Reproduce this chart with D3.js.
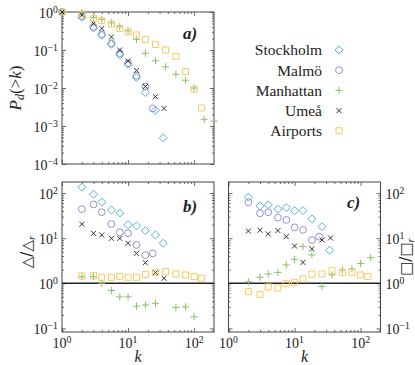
<!DOCTYPE html>
<html>
<head>
<meta charset="utf-8">
<script src="https://cdn.jsdelivr.net/npm/d3@7"></script>
<style>
  body { margin: 0; background: #fff; }
</style>
</head>
<body>
<div id="chart"></div>
<script>
// --- data ---
const xTicks = [1, 10, 100];
const yTicksA = [1e-4, 1e-3, 1e-2, 1e-1, 1];
const yTicksBC = [0.1, 1, 10, 100];
const legendNames = ["Stockholm", "Malmö", "Manhattan", "Umeå", "Airports"];

const kSto = [1, 2, 3, 4, 5.6, 7.5, 10, 13.4, 18.3, 26, 34];
const pdSto = [1, 0.72, 0.38, 0.245, 0.141, 0.074, 0.042, 0.019, 0.0076, 0.0026, 0.00049];
const triSto = [135, 94, 63, 42, 36, 20, 18.7, 14.7, 11.8, 7.7];
const sqSto = [81, 52, 55, 44, 47.5, 40.7, 40.7, 26.7, 18, 5.4];

const kMal = [1, 2, 3, 4, 5.6, 7.5, 10, 13.4, 18.3, 23.6];
const pdMal = [1, 0.78, 0.41, 0.26, 0.15, 0.082, 0.045, 0.021, 0.011, 0.0029];
const triMal = [44, 56, 37.6, 20.6, 13.5, 12.9, 7.1, 4.2, 4.6];
const sqMal = [62.6, 35.7, 37.6, 28.5, 25.4, 17.4, 15.2, 9.1, 10.8];

const kMan = [1, 2, 3, 4, 5.6, 7.5, 10, 13.4, 18.3, 26, 37, 53, 74, 100, 142, 200];
const pdMan = [1, 0.96, 0.72, 0.64, 0.52, 0.41, 0.32, 0.19, 0.082, 0.052, 0.036, 0.023, 0.016, 0.010, 0.0015, 0.00135];
const kManTri = [2, 3, 4, 5.6, 7.5, 10, 13.4, 18.3, 26, 53, 74, 100];
const triMan = [1.4, 1.4, 1.0, 0.69, 0.5, 0.5, 0.31, 0.33, 0.36, 0.29, 0.30, 0.18];
const kManSq = [2, 3, 4, 5.6, 7.5, 10, 13.4, 18.3, 26, 37, 53, 74, 100, 142];
const sqMan = [1.08, 1.36, 1.61, 1.74, 2.55, 3.4, 6.5, 4.25, 0.85, 1.53, 1.97, 2.08, 2.75, 3.7];

const kUme = [1, 2, 3, 4, 5.6, 7.5, 10, 13.4, 18.3, 26, 35];
const pdUme = [1, 0.83, 0.5, 0.37, 0.22, 0.10, 0.051, 0.029, 0.011, 0.0059, 0.0029];
const triUme = [20.4, 12.8, 11.8, 9.9, 9.9, 7.7, 4.6, 2.86, 1.72, 1.29];
const sqUme = [14.4, 15, 12.4, 14.7, 10.8, 6.7, 2.9, 5.8, 9.1, 10.1];

const kAir = [1, 2, 3, 4, 5.6, 7.5, 10, 13.4, 18.3, 26, 37, 53, 74, 100, 129];
const pdAir = [1, 0.88, 0.68, 0.59, 0.48, 0.37, 0.30, 0.25, 0.19, 0.14, 0.10, 0.068, 0.027, 0.0093, 0.003];
const triAir = [1.45, 1.47, 1.36, 1.36, 1.43, 1.36, 1.36, 1.58, 1.72, 1.81, 1.61, 1.53, 1.40, 1.29];
const sqAir = [0.65, 0.56, 0.83, 0.79, 0.98, 1.05, 1.25, 1.59, 1.61, 1.9, 1.75, 1.75, 1.53, 1.41];

const FONT = "Liberation Serif";

// marker shapes, size = half width
const shapes = {
    diamond: { draw(c, r) { c.moveTo(0, -r); c.lineTo(r, 0); c.lineTo(0, r); c.lineTo(-r, 0); c.closePath(); } },
    circle: { draw(c, r) { c.moveTo(r, 0); c.arc(0, 0, r, 0, 2 * Math.PI); } },
    plus: { draw(c, r) { c.moveTo(-r, 0); c.lineTo(r, 0); c.moveTo(0, -r); c.lineTo(0, r); } },
    times: { draw(c, r) { c.moveTo(-r, -r); c.lineTo(r, r); c.moveTo(-r, r); c.lineTo(r, -r); } },
    square: { draw(c, r) { c.rect(-r, -r, 2 * r, 2 * r); } }
};

const series = [
    { name: legendNames[0], shape: "diamond", color: "#56b4dc", r: 4.0, a: [kSto, pdSto], b: [kSto.slice(1), triSto], c: [kSto.slice(1), sqSto] },
    { name: legendNames[1], shape: "circle", color: "#8f92d0", r: 3.4, a: [kMal, pdMal], b: [kMal.slice(1), triMal], c: [kMal.slice(1), sqMal] },
    { name: legendNames[2], shape: "plus", color: "#88c168", r: 3.6, a: [kMan, pdMan], b: [kManTri, triMan], c: [kManSq, sqMan] },
    { name: legendNames[3], shape: "times", color: "#333333", r: 2.5, a: [kUme, pdUme], b: [kUme.slice(1), triUme], c: [kUme.slice(1), sqUme] },
    { name: legendNames[4], shape: "square", color: "#f8c862", r: 3.0, a: [kAir, pdAir], b: [kAir.slice(1), triAir], c: [kAir.slice(1), sqAir] }
];

const svg = d3.select("#chart").append("svg")
    .attr("width", 415)
    .attr("height", 365)
    .attr("font-family", FONT);

function label(parent, size) {
    return parent.append("text")
        .style("font-family", FONT)
        .attr("fill", "#222")
        .style("font-size", size + "px");
}

function minorTicks(domain) {
    const out = [];
    const lo = Math.floor(Math.log10(domain[0])), hi = Math.ceil(Math.log10(domain[1]));
    for (let e = lo; e <= hi; e++) {
        for (let m = 2; m <= 9; m++) {
            const v = m * Math.pow(10, e);
            if (v > domain[0] && v < domain[1]) out.push(v);
        }
    }
    return out;
}

function powLabel(sel, d, size) {
    const e = Math.round(Math.log10(d));
    sel.append("tspan").text("10");
    sel.append("tspan")
        .attr("dy", "-0.5em")
        .style("font-size", (size * 0.7) + "px")
        .text(e < 0 ? "\u2212" + (-e) : e);
}

function drawPanel(cfg) {
    const g = svg.append("g");
    const x = d3.scaleLog().domain([1, 200]).range([cfg.x0, cfg.x1]);
    const y = d3.scaleLog().domain(cfg.ydom).range([cfg.yb, cfg.yt]);

    const xMinor = minorTicks(x.domain());
    const yMinor = minorTicks(y.domain());

    const axes = [
        [d3.axisBottom(x), `translate(0,${cfg.yb})`, xTicks, xMinor],
        [d3.axisTop(x), `translate(0,${cfg.yt})`, xTicks, xMinor],
        [d3.axisLeft(y), `translate(${cfg.x0},0)`, cfg.yTicks, yMinor],
        [d3.axisRight(y), `translate(${cfg.x1},0)`, cfg.yTicks, yMinor]
    ];
    axes.forEach(([ax, tr, major, minor]) => {
        const a1 = g.append("g").attr("transform", tr)
            .call(ax.tickValues(major).tickSizeInner(-4).tickSizeOuter(0).tickFormat(""));
        a1.select(".domain").remove();
        const a2 = g.append("g").attr("transform", tr)
            .call(ax.tickValues(minor).tickSizeInner(-2).tickSizeOuter(0).tickFormat(""));
        a2.select(".domain").remove();
    });
    g.selectAll(".tick line").attr("stroke", "#444").attr("stroke-width", 0.8);

    g.append("rect")
        .attr("x", cfg.x0).attr("y", cfg.yt)
        .attr("width", cfg.x1 - cfg.x0).attr("height", cfg.yb - cfg.yt)
        .attr("fill", "none").attr("stroke", "#444").attr("stroke-width", 1);

    // tick labels
    if (cfg.xLabels) {
        xTicks.forEach(d => {
            const t = label(g, 14).attr("x", x(d)).attr("y", cfg.yb + 16).attr("text-anchor", "middle");
            powLabel(t, d, 14);
        });
        label(g, 16)
            .attr("x", (cfg.x0 + cfg.x1) / 2).attr("y", 362)
            .style("font-style", "italic").attr("text-anchor", "middle")
            .text("k");
    }
    if (cfg.yLabels) {
        const left = cfg.yLabels === "left";
        cfg.yTicks.forEach(d => {
            const t = label(g, 14)
                .attr("x", left ? cfg.x0 - 4 : cfg.x1 + 5).attr("y", y(d)).attr("dy", "0.4em")
                .attr("text-anchor", left ? "end" : "start");
            powLabel(t, d, 14);
        });
    }

    if (cfg.unity) {
        g.append("line")
            .attr("x1", cfg.x0).attr("x2", cfg.x1)
            .attr("y1", y(1)).attr("y2", y(1))
            .attr("stroke", "#222").attr("stroke-width", 1.5);
    }

    // markers
    series.forEach(s => {
        const [ks, vs] = s[cfg.key];
        const pts = ks.map((k, i) => ({ k: k, v: vs[i] }));
        g.selectAll(null).data(pts).enter().append("path")
            .attr("transform", d => `translate(${x(d.k)},${y(d.v)})`)
            .attr("d", d3.symbol().type(shapes[s.shape]).size(s.r))
            .attr("fill", "none")
            .attr("stroke", s.color)
            .attr("stroke-width", 1);
    });

    label(g, 17)
        .attr("x", cfg.tagX).attr("y", cfg.tagY)
        .style("font-weight", "bold").style("font-style", "italic")
        .text(cfg.tag);
    return g;
}

drawPanel({ key: "a", x0: 62, x1: 214, yt: 12, yb: 164, ydom: [1e-4, 1], yTicks: yTicksA,
    xLabels: false, yLabels: "left", tag: "a)", tagX: 183, tagY: 39 });
drawPanel({ key: "b", x0: 62, x1: 214, yt: 182, yb: 332, ydom: [Math.pow(10, -1.08), Math.pow(10, 2.245)], yTicks: yTicksBC,
    xLabels: true, yLabels: "left", unity: true, tag: "b)", tagX: 183, tagY: 212 });
drawPanel({ key: "c", x0: 228.5, x1: 380.5, yt: 182, yb: 332, ydom: [Math.pow(10, -1.08), Math.pow(10, 2.245)], yTicks: yTicksBC,
    xLabels: true, yLabels: "right", unity: true, tag: "c)", tagX: 347, tagY: 208 });

// axis titles
const ta = label(svg, 17)
    .attr("transform", "translate(21,88) rotate(-90)")
    .attr("text-anchor", "middle");
ta.append("tspan").style("font-style", "italic").text("P");
ta.append("tspan").style("font-style", "italic").style("font-size", "12px").attr("dy", "0.25em").text("d");
ta.append("tspan").attr("dy", "-0.2em").text("(>");
ta.append("tspan").style("font-style", "italic").text("k");
ta.append("tspan").text(")");

const tb = label(svg, 15)
    .attr("transform", "translate(32,252) rotate(-90)")
    .attr("text-anchor", "middle");
tb.append("tspan").style("font-family", "DejaVu Sans").text("\u25B3/\u25B3");
tb.append("tspan").style("font-style", "italic").style("font-size", "11px").attr("dy", "0.3em").text("r");

const tc = label(svg, 15)
    .attr("transform", "translate(411,257) rotate(-90)")
    .attr("text-anchor", "middle");
tc.append("tspan").style("font-family", "DejaVu Sans").text("\u25A1/\u25A1");
tc.append("tspan").style("font-style", "italic").style("font-size", "11px").attr("dy", "0.3em").text("r");

// legend
series.forEach((s, i) => {
    const yy = 50 + i * 20.2;
    label(svg, 15.5)
        .attr("x", 322).attr("y", yy).attr("dy", "0.35em")
        .attr("text-anchor", "end")
        .text(s.name);
    svg.append("path")
        .attr("transform", `translate(339,${yy})`)
        .attr("d", d3.symbol().type(shapes[s.shape]).size(s.r))
        .attr("fill", "none").attr("stroke", s.color).attr("stroke-width", 1);
});
</script>
</body>
</html>
